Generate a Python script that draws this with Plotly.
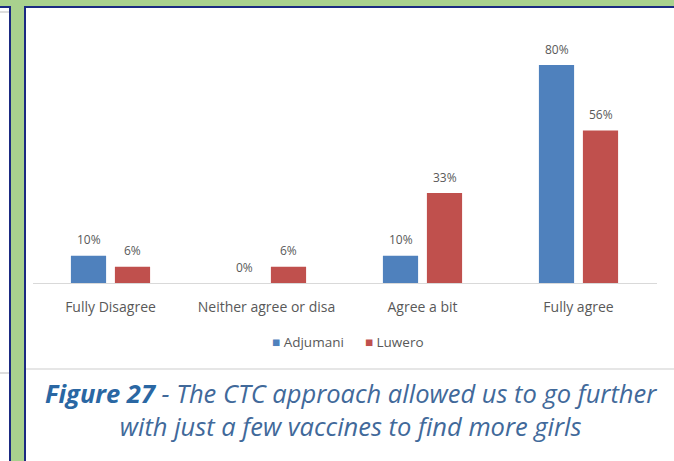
import plotly.graph_objects as go

W, H = 674, 461

categories = ["Fully Disagree", "Neither agree or disa", "Agree a bit", "Fully agree"]
series_names = ["Adjumani", "Luwero"]
adjumani = [10, 0, 10, 80]
luwero = [6, 6, 33, 56]
series_values = [adjumani, luwero]
series_colors = ["#4f81bd", "#c0504d"]
caption_bold = "Figure 27"
caption_rest = " - The CTC approach allowed us to go further<br>with just a few vaccines to find more girls"

FONT = "Open Sans"
GREY = "#595959"
NAVY = "#1b2a82"

def px_x(x):
    return x / W

def px_y(y):
    return 1 - y / H

BARGAP = 0.436
BARGROUPGAP = 0.2

fig = go.Figure()
xs = list(range(len(categories)))
for name, vals, col in zip(series_names, series_values, series_colors):
    fig.add_trace(go.Bar(x=xs, y=vals, name=name, marker=dict(color=col, line=dict(width=0)),
                         showlegend=False, hoverinfo="skip"))

# data labels
n = len(series_names)
slot = (1 - BARGAP) / n
annotations = []
for k, vals in enumerate(series_values):
    off = -(1 - BARGAP) / 2 + slot * (k + 0.5)
    for i, v in enumerate(vals):
        annotations.append(dict(x=i + off, y=v, xref="x", yref="y", text=f"{v}%",
                                showarrow=False, yshift=16, yanchor="middle",
                                font=dict(family=FONT, size=12, color=GREY)))

# legend as text
legend_txt = "      ".join(
    f'<span style="color:{c}">■</span> {nm}' for nm, c in zip(series_names, series_colors))
annotations.append(dict(x=px_x(347.5), y=px_y(342), xref="paper", yref="paper", text=legend_txt,
                        showarrow=False, xanchor="center", yanchor="middle",
                        font=dict(family=FONT, size=13.5, color=GREY)))

# caption
annotations.append(dict(x=px_x(351), y=px_y(409), xref="paper", yref="paper",
                        text=f'<span style="color:#2a67a3"><b>{caption_bold}</b></span>{caption_rest}',
                        showarrow=False, xanchor="center", yanchor="middle", align="center",
                        font=dict(family=FONT, size=25.5, color="#41699a", style="italic")))

shapes = [
    # left panel
    dict(type="rect", xref="paper", yref="paper", x0=px_x(-10), x1=px_x(10), y0=px_y(480), y1=px_y(7),
         fillcolor="white", line=dict(color=NAVY, width=2), layer="below"),
    dict(type="line", xref="paper", yref="paper", x0=px_x(0), x1=px_x(9), y0=px_y(12), y1=px_y(12),
         line=dict(color="#dddddd", width=2), layer="below"),
    dict(type="line", xref="paper", yref="paper", x0=px_x(0), x1=px_x(9), y0=px_y(373), y1=px_y(373),
         line=dict(color="#dddddd", width=2), layer="below"),
    # right panel
    dict(type="rect", xref="paper", yref="paper", x0=px_x(25), x1=px_x(700), y0=px_y(480), y1=px_y(7),
         fillcolor="white", line=dict(color=NAVY, width=2), layer="below"),
    dict(type="line", xref="paper", yref="paper", x0=px_x(26), x1=px_x(674), y0=px_y(369), y1=px_y(369),
         line=dict(color="#e6e6e6", width=2), layer="below"),
]

fig.update_layout(
    width=W, height=H,
    margin=dict(l=0, r=0, t=0, b=0),
    paper_bgcolor="#a9d18e",
    plot_bgcolor="rgba(0,0,0,0)",
    barmode="group", bargap=BARGAP, bargroupgap=BARGROUPGAP,
    showlegend=False,
    annotations=annotations,
    shapes=shapes,
    xaxis=dict(domain=[px_x(32.5), px_x(656.5)], range=[-0.5, len(categories) - 0.5],
               tickvals=xs, ticktext=categories, showline=True, linecolor="#d9d9d9", linewidth=1,
               showgrid=False, zeroline=False, ticks="", ticklabelstandoff=11,
               tickfont=dict(family=FONT, size=14, color=GREY), fixedrange=True, automargin=False),
    yaxis=dict(domain=[1 - 283 / H, 1 - 20 / H], range=[0, 263 / 2.725], visible=False,
               showgrid=False, zeroline=False, fixedrange=True),
)

fig.write_html("out.html")
